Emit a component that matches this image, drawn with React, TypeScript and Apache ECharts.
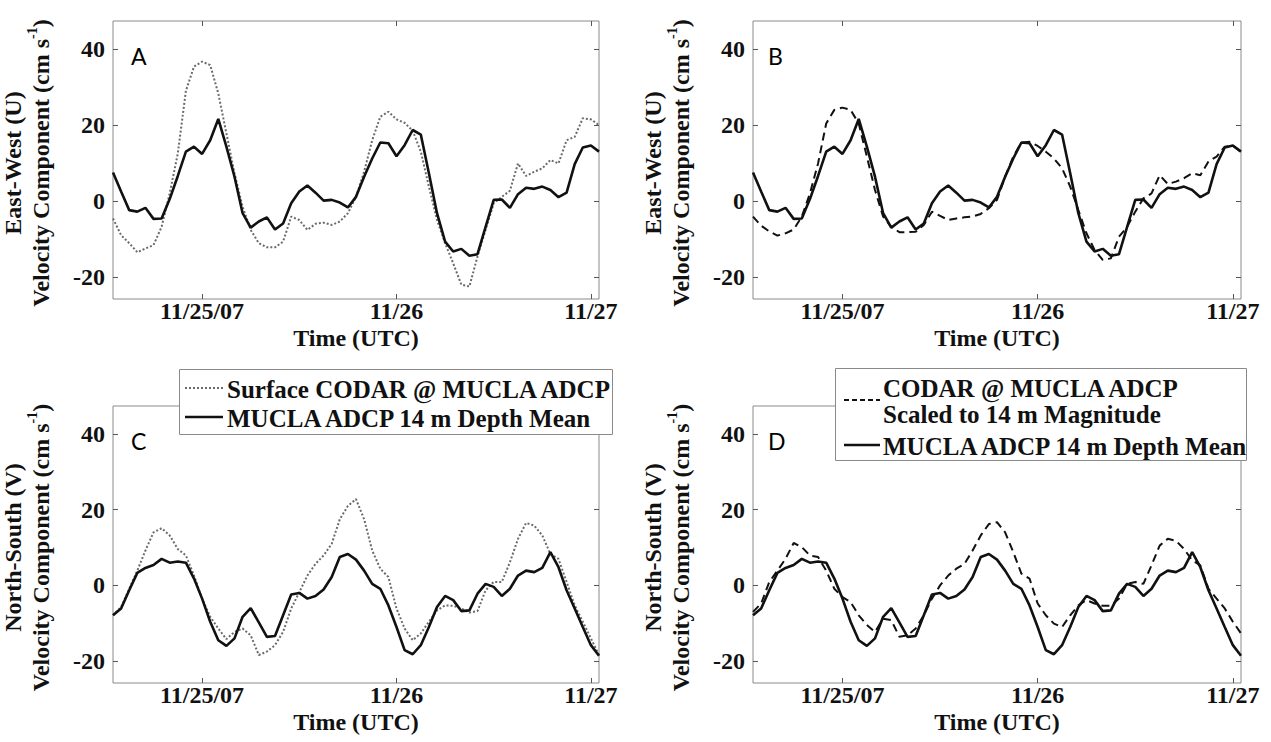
import React, { useEffect, useRef } from "react";
import * as echarts from "echarts";

// Hours relative to 11/25/07 00:00 UTC
const HOURS = [
  -11, -10, -9, -8, -7, -6, -5, -4, -3, -2, -1, 0, 1, 2, 3, 4, 5, 6, 7, 8, 9, 10,
  11, 12, 13, 14, 15, 16, 17, 18, 19, 20, 21, 22, 23, 24, 25, 26, 27, 28, 29, 30,
  31, 32, 33, 34, 35, 36, 37, 38, 39, 40, 41, 42, 43, 44, 45, 46, 47, 48, 49,
];

const X_TICKS = [0, 24, 48];
const X_TICK_LABELS = ["11/25/07", "11/26", "11/27"];
const Y_TICKS = [-20, 0, 20, 40];

// East-West (U), MUCLA ADCP 14 m depth mean
const U_ADCP = [
  7.5, 2.5, -2.4, -2.8, -1.8, -4.7, -4.6, 0.5, 6.6, 13.0, 14.3, 12.4, 16.0, 21.6,
  14.3, 6.4, -3.2, -7.0, -5.4, -4.3, -7.5, -5.9, -0.6, 2.5, 4.1, 2.2, 0.1, 0.3,
  -0.4, -1.7, 1.1, 6.4, 11.2, 15.4, 15.2, 11.8, 14.7, 18.7, 17.5, 7.3, -3.2,
  -10.7, -13.3, -12.6, -14.4, -14.0, -6.8, 0.3, 0.4, -1.8, 1.8, 3.5, 3.2, 3.8,
  2.9, 1.0, 2.2, 9.7, 14.1, 14.6, 13.0,
];
// East-West (U), surface CODAR @ MUCLA ADCP
const U_CODAR = [
  -4.6, -9.0, -11.1, -13.5, -12.5, -11.6, -6.8, 2.0, 12.5, 29.0, 35.4, 36.7, 35.8,
  28.3, 17.8, 7.3, -1.5, -7.6, -11.1, -12.2, -12.2, -10.7, -4.1, -5.0, -7.6, -6.0,
  -5.7, -6.3, -5.4, -3.2, 1.1, 7.7, 16.0, 22.2, 23.5, 21.5, 20.6, 18.5, 13.0, 3.8,
  -5.0, -11.1, -16.4, -22.0, -22.5, -14.6, -7.6, -0.6, 1.1, 2.7, 9.9, 6.6, 7.7,
  8.6, 10.8, 9.9, 16.0, 16.9, 21.8, 21.5, 20.0,
];
// East-West (U), CODAR scaled to 14 m magnitude
const U_SCALED = [
  -4.1, -6.5, -8.0, -9.1, -8.5, -7.5, -4.1, 2.0, 9.9, 20.4, 24.0, 24.6, 24.0, 20.4,
  11.7, 2.9, -4.1, -6.8, -8.2, -8.2, -8.1, -6.3, -2.8, -3.9, -5.0, -4.6, -4.3,
  -4.1, -3.4, -1.9, 0.3, 6.4, 11.7, 15.4, 15.6, 14.5, 13.0, 11.2, 8.6, 3.8, -2.4,
  -8.5, -12.9, -15.5, -15.1, -9.4, -6.8, -2.8, 0.7, 2.0, 6.8, 4.5, 5.1, 6.0, 7.3,
  6.8, 10.4, 11.7, 14.3, 14.5, 13.0,
];
// North-South (V), MUCLA ADCP 14 m depth mean
const V_ADCP = [
  -7.9, -6.1, -1.3, 3.3, 4.6, 5.4, 7.0, 6.0, 6.3, 6.0, 1.8, -3.5, -9.6, -14.5,
  -16.0, -14.0, -8.3, -6.0, -9.8, -13.6, -13.4, -7.9, -2.4, -2.0, -3.5, -2.8,
  -1.1, 2.2, 7.5, 8.3, 6.8, 3.9, 0.4, -0.9, -5.3, -11.0, -17.1, -18.2, -15.8,
  -11.0, -5.7, -2.8, -3.9, -6.8, -6.6, -2.2, 0.4, -0.4, -2.8, -0.9, 2.6, 3.9, 3.5,
  4.6, 8.8, 4.8, -1.3, -6.1, -11.0, -15.8, -18.6,
];
// North-South (V), surface CODAR @ MUCLA ADCP
const V_CODAR = [
  -7.9, -5.7, -0.9, 3.9, 9.2, 14.0, 15.1, 13.2, 9.6, 7.9, 2.6, -3.5, -8.3, -11.4,
  -14.2, -12.3, -11.4, -13.2, -18.4, -17.5, -15.8, -12.3, -6.1, -1.8, 2.6, 5.7,
  7.9, 11.0, 17.5, 21.0, 22.8, 17.5, 9.2, 4.4, 2.2, -6.1, -11.4, -14.5, -12.7,
  -9.6, -6.6, -5.3, -5.4, -6.1, -7.2, -6.8, -1.3, 0.9, 0.9, 6.1, 12.3, 16.5, 15.8,
  13.2, 8.3, 7.0, 0.9, -5.3, -9.6, -14.0, -18.4,
];
// North-South (V), CODAR scaled to 14 m magnitude
const V_SCALED = [
  -7.0, -4.8, 0.9, 3.9, 7.0, 11.2, 10.1, 7.9, 7.5, 3.9, -0.9, -3.1, -4.4, -7.9,
  -10.5, -12.3, -8.8, -9.2, -13.6, -13.2, -11.4, -7.9, -3.5, 0.0, 2.6, 4.4, 5.7,
  9.2, 13.2, 16.2, 16.7, 14.0, 8.8, 3.1, 1.8, -4.8, -7.9, -10.1, -11.0, -7.9,
  -5.3, -3.9, -4.8, -5.4, -5.4, -3.5, 0.4, 0.9, 0.4, 5.3, 10.5, 12.3, 11.8, 9.6,
  6.6, 5.3, -0.9, -3.5, -6.1, -9.6, -12.7,
];

const SERIF = "Liberation Serif, Times New Roman, serif";
const SANS = "Lato, Open Sans, sans-serif";
const FS = 24;
const Y_MIN = -25.8;
const Y_MAX = 47.4;
const X_MIN = -11;
const X_MAX = 49;

const GRIDS = [
  { left: 113, top: 21, width: 486, height: 278 },
  { left: 753, top: 21, width: 488, height: 278 },
  { left: 113, top: 406, width: 486, height: 277 },
  { left: 753, top: 406, width: 488, height: 277 },
];
const PANEL_LETTERS = ["A", "B", "C", "D"];
const PANEL_NAMES = ["East-West (U)", "East-West (U)", "North-South (V)", "North-South (V)"];

const pairs = (vals: number[]) => HOURS.map((h, i) => [h, vals[i]]);

const SOLID = { color: "#111", width: 2.6, type: "solid" as const };
const DOTTED = { color: "#6a6a6a", width: 2, type: [2, 2] as any };
const DASHED = { color: "#111", width: 2, type: [8, 5] as any };

const txt = (size: number, weight = "bold", family = SERIF) => ({
  fontFamily: family, fontWeight: weight, fontSize: size,
});

function buildOption() {
  const xAxis: any[] = [];
  const yAxis: any[] = [];
  const grid: any[] = [];
  const graphic: any[] = [];
  GRIDS.forEach((g, i) => {
    grid.push({ ...g, show: true, borderColor: "#8a8a8a", borderWidth: 1, backgroundColor: "#fff" });
    const tickStyle = { show: true, inside: true, length: 5, lineStyle: { color: "#555", width: 1 } };
    const noLine = { show: false, onZero: false };
    xAxis.push({
      type: "value", gridIndex: i, min: X_MIN, max: X_MAX, position: "bottom",
      axisLine: noLine, splitLine: { show: false },
      axisTick: { ...tickStyle, customValues: X_TICKS },
      axisLabel: {
        show: true, customValues: X_TICKS, margin: 0,
        formatter: (v: number) => X_TICK_LABELS[X_TICKS.indexOf(v)] ?? "",
        ...txt(FS), color: "#111",
      },
    });
    xAxis.push({
      type: "value", gridIndex: i, min: X_MIN, max: X_MAX, position: "top",
      axisLine: noLine, splitLine: { show: false },
      axisTick: { ...tickStyle, customValues: X_TICKS },
      axisLabel: { show: false },
    });
    yAxis.push({
      type: "value", gridIndex: i, min: Y_MIN, max: Y_MAX, position: "left",
      axisLine: noLine, splitLine: { show: false },
      axisTick: { ...tickStyle, customValues: Y_TICKS },
      axisLabel: {
        show: true, customValues: Y_TICKS, margin: 8,
        ...txt(FS), color: "#111",
      },
    });
    yAxis.push({
      type: "value", gridIndex: i, min: Y_MIN, max: Y_MAX, position: "right",
      axisLine: noLine, splitLine: { show: false },
      axisTick: { ...tickStyle, customValues: Y_TICKS },
      axisLabel: { show: false },
    });

    const cy = g.top + g.height / 2 + 3;
    graphic.push({
      type: "text", x: g.left - 100, y: cy, rotation: Math.PI / 2,
      style: {
        text: PANEL_NAMES[i], ...txt(FS), fill: "#111",
        align: "center", verticalAlign: "middle",
      },
    });
    graphic.push({
      type: "text", x: g.left - 74, y: cy, rotation: Math.PI / 2,
      style: {
        text: "{a|Velocity Component (cm s}{s|-1}{a|)}",
        align: "center", verticalAlign: "middle",
        rich: {
          a: { ...txt(FS), fill: "#111", lineHeight: 28, verticalAlign: "bottom" },
          s: { ...txt(14), fill: "#111", lineHeight: 28, verticalAlign: "top" },
        },
      },
    });
    graphic.push({
      type: "text", x: g.left + g.width / 2, y: g.top + g.height + 39,
      style: {
        text: "Time (UTC)", ...txt(FS), fill: "#111",
        align: "center", verticalAlign: "middle",
      },
    });
    graphic.push({
      type: "text", x: g.left + (i % 2 === 0 ? 18 : 15), y: g.top + 35, z: 50,
      style: {
        text: PANEL_LETTERS[i], ...txt(23, "normal", SANS), fill: "#000",
        align: "left", verticalAlign: "middle",
      },
    });
  });

  const Z = 200;
  const legText = (x: number, y: number, text: string) => ({
    type: "text", x, y, z: Z + 1, style: { text, ...txt(25), fill: "#111", verticalAlign: "middle" },
  });

  // Legend for panel C
  graphic.push(
    { type: "rect", z: Z, shape: { x: 179.5, y: 369.5, width: 433, height: 65 }, style: { fill: "#fff", stroke: "#8a8a8a", lineWidth: 1 } },
    { type: "line", z: Z + 1, shape: { x1: 185, y1: 388, x2: 223, y2: 388 }, style: { stroke: DOTTED.color, lineWidth: 2, lineDash: [2, 2] } },
    legText(227, 389, "Surface CODAR @ MUCLA ADCP"),
    { type: "line", z: Z + 1, shape: { x1: 185, y1: 417, x2: 223, y2: 417 }, style: { stroke: "#111", lineWidth: 2.6 } },
    legText(227, 418, "MUCLA ADCP 14 m Depth Mean"),
  );
  // Legend for panel D
  graphic.push(
    { type: "rect", z: Z, shape: { x: 835.5, y: 368.5, width: 411, height: 92 }, style: { fill: "#fff", stroke: "#8a8a8a", lineWidth: 1 } },
    { type: "line", z: Z + 1, shape: { x1: 844, y1: 400, x2: 880, y2: 400 }, style: { stroke: "#111", lineWidth: 2, lineDash: [5, 3] } },
    legText(883, 388, "CODAR @ MUCLA ADCP"),
    legText(883, 414, "Scaled to 14 m Magnitude"),
    { type: "line", z: Z + 1, shape: { x1: 844, y1: 445, x2: 880, y2: 445 }, style: { stroke: "#111", lineWidth: 2.6 } },
    legText(883, 446, "MUCLA ADCP 14 m Depth Mean"),
  );

  const line = (name: string, idx: number, data: number[], style: any) => ({
    name, type: "line", xAxisIndex: idx * 2, yAxisIndex: idx * 2,
    data: pairs(data), symbol: "none", showSymbol: false, smooth: false,
    lineStyle: style, z: style === SOLID ? 4 : 3, clip: true,
  });

  const series = [
    line("Surface CODAR @ MUCLA ADCP", 0, U_CODAR, DOTTED),
    line("MUCLA ADCP 14 m Depth Mean", 0, U_ADCP, SOLID),
    line("CODAR @ MUCLA ADCP Scaled to 14 m Magnitude", 1, U_SCALED, DASHED),
    line("MUCLA ADCP 14 m Depth Mean", 1, U_ADCP, SOLID),
    line("Surface CODAR @ MUCLA ADCP", 2, V_CODAR, DOTTED),
    line("MUCLA ADCP 14 m Depth Mean", 2, V_ADCP, SOLID),
    line("CODAR @ MUCLA ADCP Scaled to 14 m Magnitude", 3, V_SCALED, DASHED),
    line("MUCLA ADCP 14 m Depth Mean", 3, V_ADCP, SOLID),
  ];

  return {
    animation: false,
    backgroundColor: "#fff",
    grid, xAxis, yAxis, series, graphic,
  };
}

export default function App() {
  const ref = useRef<HTMLDivElement>(null);
  useEffect(() => {
    if (!ref.current) return;
    const chart = echarts.init(ref.current, null, { renderer: "svg" });
    chart.setOption(buildOption() as any);
    return () => chart.dispose();
  }, []);
  return (
    <div
      ref={ref}
      style={{ position: "fixed", left: 0, top: 0, width: 1271, height: 742, background: "#fff" }}
    />
  );
}
